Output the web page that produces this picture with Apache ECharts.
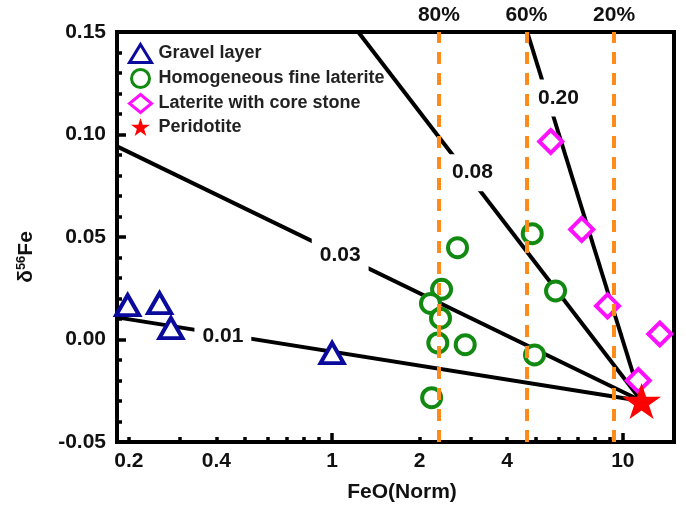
<!DOCTYPE html>
<html><head><meta charset="utf-8">
<script src="https://cdn.jsdelivr.net/npm/echarts@6/dist/echarts.min.js"></script>
<style>html,body{margin:0;padding:0;background:#fff}#c{width:686px;height:508px}</style>
</head><body><div id="c"></div>
<script>
// ---- data ----
const gravelX = [0.198, 0.255, 0.279, 1.0];
const gravelY = [0.0168, 0.0177, 0.0056, -0.0066];
const fineX = [2.70, 2.38, 2.18, 2.36, 2.31, 2.87, 2.20, 4.88, 5.87, 4.97];
const fineY = [0.0448, 0.0245, 0.0176, 0.0104, -0.0017, -0.0025, -0.0284, 0.0516, 0.0237, -0.0075];
const coreX = [5.65, 7.22, 8.86, 13.4, 11.3];
const coreY = [0.0966, 0.0537, 0.0164, 0.0027, -0.020];
const periX = [11.6];
const periY = [-0.030];
const mixNames = ['0.01', '0.03', '0.08', '0.20'];
const mixStartX = [0.182, 0.182, 1.23, 4.69];
const mixStartY = [0.0108, 0.0942, 0.15, 0.15];
const mixLabelX = [0.421, 1.066, 3.04, 6.01];
const mixLabelY = [0.0017, 0.0411, 0.0814, 0.1178];
const fracNames = ['80%', '60%', '20%'];
const fracX = [2.33, 4.66, 9.33];
const xLabelValues = [0.2, 0.4, 1, 2, 4, 10];
const xTickValues = [0.2, 0.3, 0.4, 0.5, 0.6, 0.7, 0.8, 0.9, 1, 2, 3, 4, 5, 6, 7, 8, 9, 10];
const xMajorTickValues = [1, 10];
const xMin = 0.182, xMax = 15;
const yMin = -0.05, yMax = 0.15, yStep = 0.05;
const legendNames = ['Gravel layer', 'Homogeneous fine laterite', 'Laterite with core stone', 'Peridotite'];

// ---- chart ----
const FONT = "'Liberation Sans', Arial, sans-serif";
const chart = echarts.init(document.getElementById('c'), null, {renderer: 'canvas'});
const zip = (xs, ys) => xs.map((x, i) => [x, ys[i]]);
const STAR = 'path://M50,0 L61.2,34.5 L97.6,34.5 L68.2,55.9 L79.4,90.5 L50,69.1 L20.6,90.5 L31.8,55.9 L2.4,34.5 L38.8,34.5 Z';

const series = [];
series.push({
  name: 'frac', type: 'line', data: [], z: 1, silent: true,
  markLine: {
    silent: true, symbol: ['none', 'none'], animation: false,
    lineStyle: {color: '#FF8C1A', width: 4, type: [12, 9], opacity: 1},
    label: {show: true, position: 'end', formatter: p => p.name, fontSize: 21, fontWeight: 'bold', color: '#111', fontFamily: FONT, distance: 6},
    emphasis: {disabled: true},
    data: fracX.map((x, i) => ({name: fracNames[i], xAxis: x}))
  }
});
mixNames.forEach((n, i) => {
  series.push({
    name: 'mix' + n, type: 'line', z: 2, silent: true, symbol: 'none',
    lineStyle: {color: '#000', width: 4, opacity: 1}, clip: true,
    data: [[mixStartX[i], mixStartY[i]], [periX[0], periY[0]]]
  });
});
series.push({
  name: 'mixLabels', type: 'scatter', z: 3, silent: true, symbolSize: 1,
  itemStyle: {color: 'rgba(0,0,0,0)', opacity: 1},
  label: {show: true, position: 'inside', formatter: '{b}', backgroundColor: '#fff', padding: [8, 8], opacity: 1,
    fontSize: 21, fontWeight: 'bold', color: '#111', fontFamily: FONT},
  data: mixLabelX.map((x, i) => ({name: mixNames[i], value: [x, mixLabelY[i]]}))
});
series.push({
  name: legendNames[0], type: 'scatter', z: 4, symbol: 'triangle', symbolSize: [23, 20],
  itemStyle: {color: '#fff', borderColor: '#0A0A9C', borderWidth: 4, opacity: 1},
  data: zip(gravelX, gravelY)
});
series.push({
  name: legendNames[1], type: 'scatter', z: 4, symbol: 'circle', symbolSize: 19,
  itemStyle: {color: '#fff', borderColor: '#128A12', borderWidth: 4, opacity: 1},
  data: zip(fineX, fineY)
});
series.push({
  name: legendNames[2], type: 'scatter', z: 4, symbol: 'diamond', symbolSize: 23,
  itemStyle: {color: '#fff', borderColor: '#FF10FF', borderWidth: 4, opacity: 1},
  data: zip(coreX, coreY)
});
series.push({
  name: legendNames[3], type: 'scatter', z: 5, symbol: STAR, symbolSize: [39, 36],
  itemStyle: {color: '#FF0000', opacity: 1},
  data: zip(periX, periY)
});

const option = {
  animation: false,
  backgroundColor: '#fff',
  textStyle: {fontFamily: FONT},
  grid: {left: 117, right: 12, top: 32, bottom: 65, show: true, borderColor: '#000', borderWidth: 4, backgroundColor: 'transparent'},
  legend: {
    data: legendNames, orient: 'vertical', left: 128, top: 43, padding: 0,
    itemWidth: 22, itemHeight: 18, itemGap: 4,
    itemStyle: {borderWidth: 3},
    textStyle: {fontSize: 18, fontWeight: 'bold', color: '#222', fontFamily: FONT, padding: [0, 0, 0, 2]}
  },
  xAxis: [{
    type: 'log', logBase: 10, min: xMin, max: xMax,
    axisLine: {show: true, onZero: false, lineStyle: {color: '#000', width: 4}},
    axisTick: {show: true, inside: true, length: 5, customValues: xTickValues, lineStyle: {color: '#000', width: 3.5}},
    axisLabel: {customValues: xLabelValues, fontSize: 21, fontWeight: 'bold', color: '#111', margin: 9, formatter: v => String(v)},
    splitLine: {show: false}, minorTick: {show: false},
    name: 'FeO(Norm)', nameLocation: 'middle', nameGap: 40,
    nameTextStyle: {fontSize: 21, fontWeight: 'bold', color: '#111', padding: [0, 0, 0, 13]}
  }, {
    type: 'log', logBase: 10, min: xMin, max: xMax, position: 'bottom',
    axisLine: {show: false, onZero: false},
    axisTick: {show: true, inside: true, length: 9, customValues: xMajorTickValues, lineStyle: {color: '#000', width: 3.5}},
    axisLabel: {show: false}, splitLine: {show: false}
  }],
  yAxis: {
    type: 'value', min: yMin, max: yMax, interval: yStep,
    axisLine: {show: true, onZero: false, lineStyle: {color: '#000', width: 4}},
    axisTick: {show: true, inside: true, length: 9, lineStyle: {color: '#000', width: 3.5}},
    minorTick: {show: true, splitNumber: 5, length: 5, lineStyle: {color: '#000', width: 3.5}},
    axisLabel: {fontSize: 21, fontWeight: 'bold', color: '#111', margin: 11, formatter: v => v.toFixed(2)},
    splitLine: {show: false},
    name: '{d|δ}{s|56}{d|Fe}', nameLocation: 'middle', nameGap: 80, nameRotate: 90,
    nameTextStyle: {
      color: '#111', padding: [0, 40, 0, 0],
      rich: {
        d: {fontSize: 21, fontWeight: 'bold', color: '#111', fontFamily: FONT, verticalAlign: 'bottom'},
        s: {fontSize: 13, fontWeight: 'bold', color: '#111', fontFamily: FONT, verticalAlign: 'bottom', padding: [0, 0, 9, 0]}
      }
    }
  },
  series: series
};
chart.setOption(option);
</script>
</body></html>
